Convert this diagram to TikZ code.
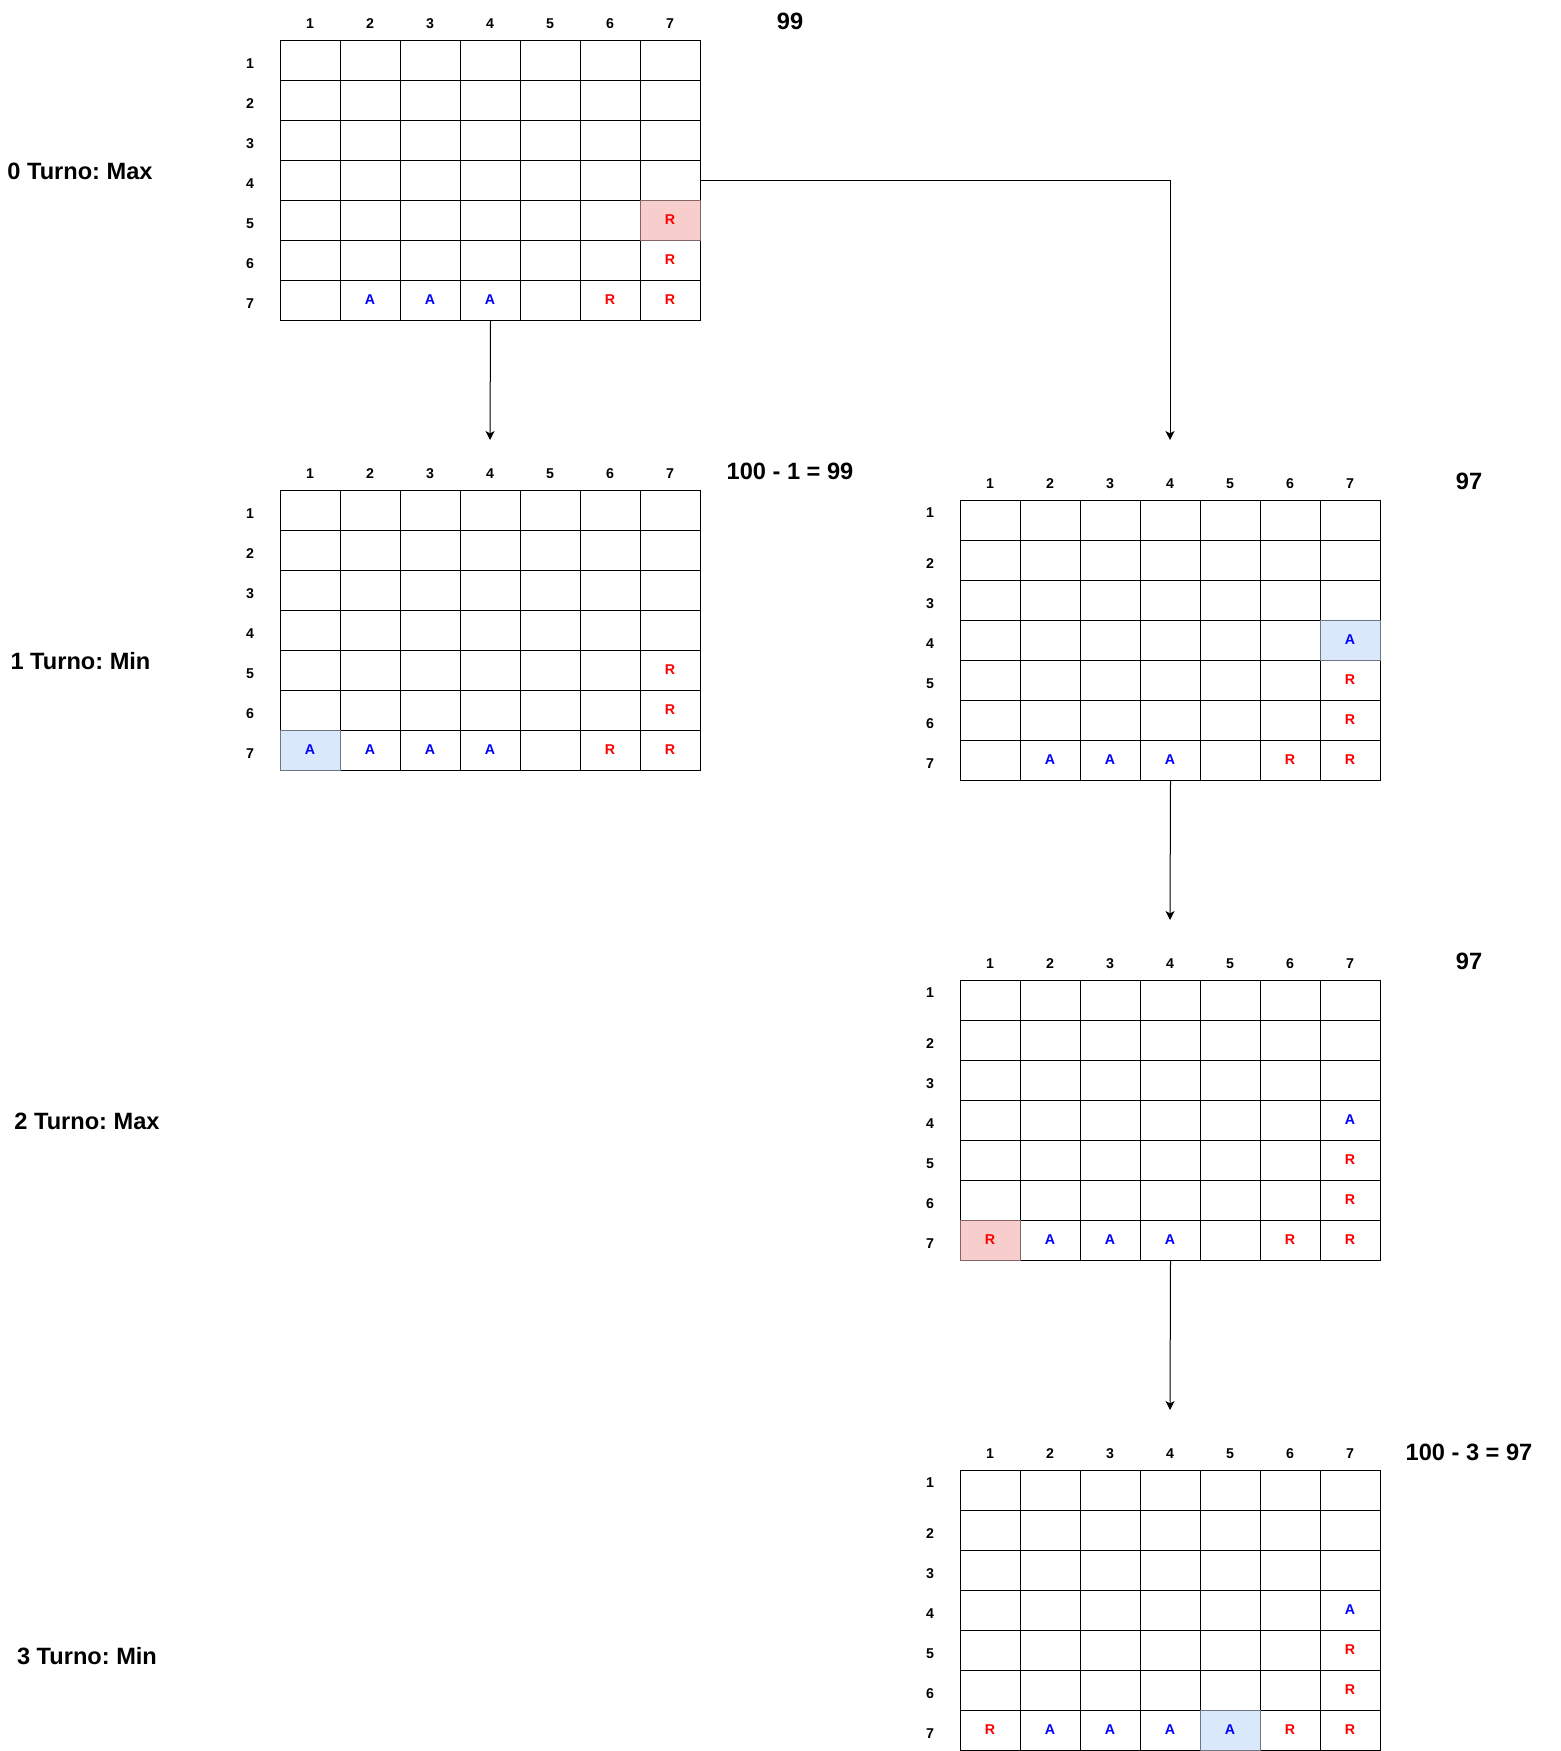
\documentclass[tikz,border=0pt]{standalone}
\usepackage{fontspec}
\setmainfont{Liberation Sans}
\usetikzlibrary{arrows.meta}
\definecolor{pinkfill}{HTML}{F8CECC}
\definecolor{bluefill}{HTML}{DAE8FC}
\definecolor{pinkline}{RGB}{130,100,100}
\definecolor{blueline}{RGB}{110,118,130}
\definecolor{tokAcol}{RGB}{0,0,255}
\definecolor{tokRcol}{RGB}{255,0,0}
\frenchspacing
\tikzset{
  gridbox/.style={draw, line width=0.5pt, minimum width=210pt, minimum height=140pt, inner sep=0pt, anchor=north west},
  gridline/.style={line width=0.5pt},
  small/.style={font=\fontsize{7.1pt}{8pt}\selectfont\bfseries, inner sep=0pt},
  big/.style={font=\fontsize{11.8pt}{13pt}\selectfont\bfseries, inner sep=0pt},
  tokenA/.style={small, text=tokAcol},
  tokenR/.style={small, text=tokRcol},
  arr/.style={line width=0.5pt, -{Stealth[length=4.5pt,width=4.5pt,inset=1.2pt]}}
}
% #1 name, #2 x0, #3 y0, #4 row-1 label offset
\newcommand\drawgrid[4]{%
  \node[gridbox] (#1) at (#2,#3) {};
  \foreach \i in {1,...,6} {
    \draw[gridline] ({#2+\i*60},#3) -- ({#2+\i*60},{#3+280});
    \draw[gridline] (#2,{#3+\i*40}) -- ({#2+420},{#3+\i*40});
  }
  \foreach \i in {1,...,7} {
    \node[small] (#1h\i) at ({#2+\i*60-30},{#3-16.7}) {\i};
  }
  \node[small] (#1r1) at ({#2-30},{#3+20+#4}) {1};
  \foreach \i in {2,...,7} {
    \node[small] (#1r\i) at ({#2-30},{#3+\i*40-20+3.3}) {\i};
  }
}
% #1 grid, #2 x0, #3 y0, #4 col, #5 row, #6 letter
\newcommand\tok[6]{\node[token#6] (#1c#4#5) at ({#2+#4*60-30},{#3+#5*40-20}) {#6};}
% #1 x0, #2 y0, #3 col, #4 row, #5 colour prefix
\newcommand\hlcell[5]{\draw[fill=#5fill, draw=#5line, line width=0.5pt] ({#1+#3*60-60},{#2+#4*40-40}) rectangle ({#1+#3*60},{#2+#4*40});}
\begin{document}
\begin{tikzpicture}[x=0.5pt,y=-0.5pt]
\useasboundingbox (0,0) rectangle (1561,1751);

% ---------- grid 1 ----------
\drawgrid{ga}{280}{40}{3.3}
\hlcell{280}{40}{7}{5}{pink}
\tok{ga}{280}{40}{7}{5}{R}
\tok{ga}{280}{40}{7}{6}{R}
\tok{ga}{280}{40}{2}{7}{A}
\tok{ga}{280}{40}{3}{7}{A}
\tok{ga}{280}{40}{4}{7}{A}
\tok{ga}{280}{40}{6}{7}{R}
\tok{ga}{280}{40}{7}{7}{R}

% ---------- grid 2 ----------
\drawgrid{gb}{280}{490}{3.3}
\hlcell{280}{490}{1}{7}{blue}
\tok{gb}{280}{490}{7}{5}{R}
\tok{gb}{280}{490}{7}{6}{R}
\tok{gb}{280}{490}{1}{7}{A}
\tok{gb}{280}{490}{2}{7}{A}
\tok{gb}{280}{490}{3}{7}{A}
\tok{gb}{280}{490}{4}{7}{A}
\tok{gb}{280}{490}{6}{7}{R}
\tok{gb}{280}{490}{7}{7}{R}

% ---------- grid 3 ----------
\drawgrid{gc}{960}{500}{-7}
\hlcell{960}{500}{7}{4}{blue}
\tok{gc}{960}{500}{7}{4}{A}
\tok{gc}{960}{500}{7}{5}{R}
\tok{gc}{960}{500}{7}{6}{R}
\tok{gc}{960}{500}{2}{7}{A}
\tok{gc}{960}{500}{3}{7}{A}
\tok{gc}{960}{500}{4}{7}{A}
\tok{gc}{960}{500}{6}{7}{R}
\tok{gc}{960}{500}{7}{7}{R}

% ---------- grid 4 ----------
\drawgrid{gd}{960}{980}{-7}
\hlcell{960}{980}{1}{7}{pink}
\tok{gd}{960}{980}{7}{4}{A}
\tok{gd}{960}{980}{7}{5}{R}
\tok{gd}{960}{980}{7}{6}{R}
\tok{gd}{960}{980}{1}{7}{R}
\tok{gd}{960}{980}{2}{7}{A}
\tok{gd}{960}{980}{3}{7}{A}
\tok{gd}{960}{980}{4}{7}{A}
\tok{gd}{960}{980}{6}{7}{R}
\tok{gd}{960}{980}{7}{7}{R}

% ---------- grid 5 ----------
\drawgrid{ge}{960}{1470}{-7}
\hlcell{960}{1470}{5}{7}{blue}
\tok{ge}{960}{1470}{7}{4}{A}
\tok{ge}{960}{1470}{7}{5}{R}
\tok{ge}{960}{1470}{7}{6}{R}
\tok{ge}{960}{1470}{1}{7}{R}
\tok{ge}{960}{1470}{2}{7}{A}
\tok{ge}{960}{1470}{3}{7}{A}
\tok{ge}{960}{1470}{4}{7}{A}
\tok{ge}{960}{1470}{5}{7}{A}
\tok{ge}{960}{1470}{6}{7}{R}
\tok{ge}{960}{1470}{7}{7}{R}

% ---------- labels ----------
\node[big] (t0) at (80,171) {0 Turno: Max};
\node[big] (t1) at (80.5,661) {1 Turno: Min};
\node[big] (t2) at (87,1121) {2 Turno: Max};
\node[big] (t3) at (87,1656) {3 Turno: Min};

\node[big] (s1) at (790,21) {99};
\node[big] (s2) at (790,471) {100 - 1 = 99};
\node[big] (s3) at (1469,481) {97};
\node[big] (s4) at (1469,961) {97};
\node[big] (s5) at (1469,1452) {100 - 3 = 97};

% ---------- connectors ----------
\coordinate (e1) at (490,440);
\coordinate (e2) at (1170,440);
\coordinate (e3) at (1170,920);
\coordinate (e4) at (1170,1410);
\draw[arr] (ga.south) -- (e1);
\draw[arr] (ga.east) -| (e2);
\draw[arr] (gc.south) -- (e3);
\draw[arr] (gd.south) -- (e4);
\end{tikzpicture}
\end{document}
